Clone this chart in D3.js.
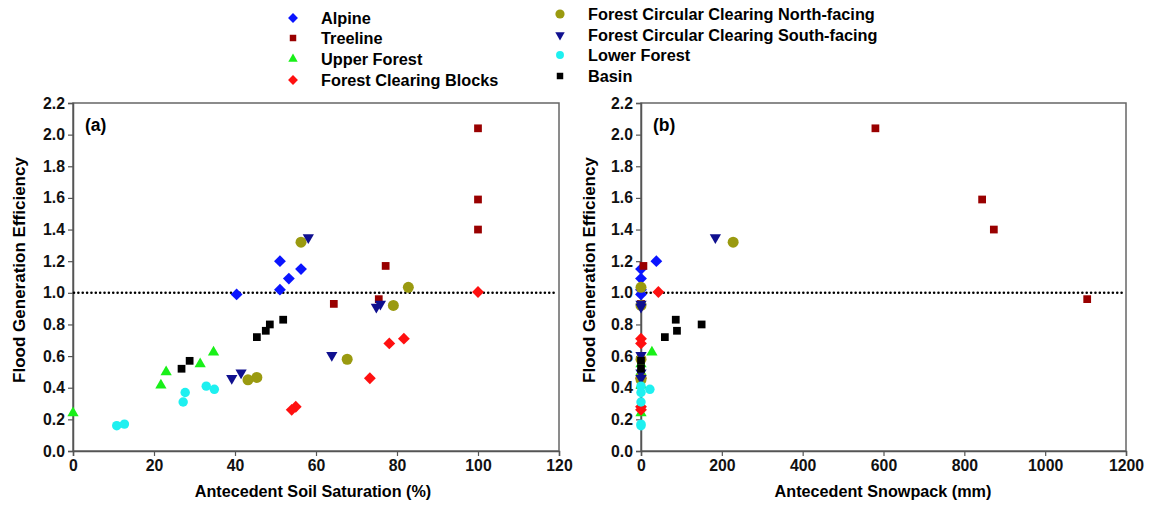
<!DOCTYPE html>
<html>
<head>
<meta charset="utf-8">
<script src="https://cdn.jsdelivr.net/npm/d3@7"></script>
<style>
  body { margin: 0; background: #fff; }
  svg { font-family: "Liberation Sans", Arial, sans-serif; font-weight: bold; }
</style>
</head>
<body>
<svg id="chart" width="1149" height="506"></svg>
<script>
// Series values: efficiency (y), soil saturation % (panel a x), snowpack mm (panel b x)
const seriesNames = ["Alpine", "Treeline", "Upper Forest", "Forest Clearing Blocks",
  "Forest Circular Clearing North-facing", "Forest Circular Clearing South-facing",
  "Lower Forest", "Basin"];

const alpineEff = [0.99, 1.20, 1.02, 1.09, 1.15];
const alpineSat = [40.4, 51.1, 51.1, 53.3, 56.3];
const alpineSnow = [0, 38, 0, 0, 0];

const treelineEff = [2.04, 1.59, 1.40, 1.17, 0.93, 0.96];
const treelineSat = [100, 100, 100, 77.2, 64.4, 75.5];
const treelineSnow = [580, 844, 873, 6, 0, 1104];

const upperEff = [0.24, 0.415, 0.50, 0.55, 0.625];
const upperSat = [0, 21.7, 23.0, 31.4, 34.7];
const upperSnow = [0, 0, 0, 0, 27];

const blocksEff = [1.005, 0.71, 0.68, 0.46, 0.28, 0.26];
const blocksSat = [100, 81.7, 78.1, 73.3, 55.0, 54.0];
const blocksSnow = [43, 0, 0, 0, 0, 0];

const northEff = [1.32, 1.035, 0.92, 0.58, 0.465, 0.45];
const northSat = [56.3, 82.8, 79.1, 67.7, 45.4, 43.2];
const northSnow = [228, 0, 0, 0, 0, 0];

const southEff = [1.35, 0.93, 0.91, 0.605, 0.495, 0.46];
const southSat = [58.1, 75.9, 74.9, 63.9, 41.5, 39.2];
const southSnow = [184, 0, 0, 0, 0, 0];

const lowerEff = [0.16, 0.17, 0.31, 0.37, 0.41, 0.39];
const lowerSat = [10.8, 12.7, 27.2, 27.7, 32.9, 34.9];
const lowerSnow = [0, 0, 0, 0, 0, 22];

const basinEff = [0.52, 0.57, 0.72, 0.76, 0.80, 0.83];
const basinSat = [26.8, 28.8, 45.4, 47.6, 48.6, 51.9];
const basinSnow = [0, 0, 59, 89, 150, 86];

const yTicks = [0, 0.2, 0.4, 0.6, 0.8, 1.0, 1.2, 1.4, 1.6, 1.8, 2.0, 2.2];
const satTicks = [0, 20, 40, 60, 80, 100, 120];
const snowTicks = [0, 200, 400, 600, 800, 1000, 1200];

// marker styles per series
const colors = ["#0a14ff", "#990000", "#19f019", "#ff1010", "#9a9a10", "#10108f", "#1ef0f0", "#000000"];
const shapes = ["diamond", "square", "triangle", "diamond", "circle", "triangleDown", "circle", "square"];
const sizes = [70, 60, 55, 70, 95, 55, 70, 60];

const series = [
  { eff: alpineEff, sat: alpineSat, snow: alpineSnow },
  { eff: treelineEff, sat: treelineSat, snow: treelineSnow },
  { eff: upperEff, sat: upperSat, snow: upperSnow },
  { eff: blocksEff, sat: blocksSat, snow: blocksSnow },
  { eff: northEff, sat: northSat, snow: northSnow },
  { eff: southEff, sat: southSat, snow: southSnow },
  { eff: lowerEff, sat: lowerSat, snow: lowerSnow },
  { eff: basinEff, sat: basinSat, snow: basinSnow },
].map((s, i) => ({ ...s, name: seriesNames[i], color: colors[i], shape: shapes[i], size: sizes[i] }));

const svg = d3.select("#chart");

function symbolPath(shape, size) {
  if (shape === "diamond" || shape === "square") return d3.symbol(d3.symbolSquare, size)();
  if (shape === "circle") return d3.symbol(d3.symbolCircle, size)();
  return d3.symbol(d3.symbolTriangle, size)();
}
function symbolRotate(shape) {
  if (shape === "diamond") return 45;
  if (shape === "triangleDown") return 180;
  return 0;
}

// Legend
const legendCols = [
  { x: 293, ys: [18, 38, 59, 80] },
  { x: 560, ys: [14, 35, 55, 76] },
];
series.forEach((s, i) => {
  const col = legendCols[Math.floor(i / 4)];
  const y = col.ys[i % 4];
  const g = svg.append("g").attr("transform", `translate(${col.x},${y})`);
  g.append("path")
    .attr("d", symbolPath(s.shape, s.size * 0.7))
    .attr("transform", `rotate(${symbolRotate(s.shape)})`)
    .attr("fill", s.color);
  g.append("text").attr("x", 28).attr("y", 5.5)
    .attr("font-size", 16.3).text(s.name);
});

const y = d3.scaleLinear().domain([0, 2.2]).range([451, 103]);

function drawPanel(opts) {
  const x = d3.scaleLinear().domain([0, 1200 / (opts.key === "sat" ? 10 : 1)]).range([opts.x0, opts.x1]);
  const g = svg.append("g");

  // frame
  g.append("rect")
    .attr("x", opts.x0).attr("y", 103)
    .attr("width", opts.x1 - opts.x0).attr("height", 451 - 103)
    .attr("fill", "none").attr("stroke", "#666").attr("stroke-width", 1.5);

  const yAxis = g.append("g").attr("transform", `translate(${opts.x0},0)`)
    .call(d3.axisLeft(y).tickValues(yTicks).tickFormat(d3.format(".1f")).tickSize(5).tickPadding(3));
  const xAxis = g.append("g").attr("transform", "translate(0,451)")
    .call(d3.axisBottom(x).tickValues(opts.ticks).tickFormat(d3.format("d")).tickSize(5).tickPadding(4));
  [yAxis, xAxis].forEach(a => {
    a.select(".domain").attr("stroke", "#555").attr("stroke-width", 1.5);
    a.selectAll(".tick line").attr("stroke", "#555").attr("stroke-width", 1.2);
    a.selectAll("text").attr("font-size", 15.8).attr("fill", "#111")
      .attr("font-family", "'Liberation Sans', Arial, sans-serif").attr("font-weight", "bold");
  });

  // reference line at efficiency = 1
  g.append("line")
    .attr("x1", opts.x0 + 1).attr("x2", opts.x1 - 2)
    .attr("y1", y(1)).attr("y2", y(1))
    .attr("stroke", "#000").attr("stroke-width", 2.6)
    .attr("stroke-linecap", "round").attr("stroke-dasharray", "0.01,4.35");

  // points
  series.forEach(s => {
    g.append("g").selectAll("path")
      .data(s.eff.map((e, i) => ({ e, v: s[opts.key][i] })))
      .join("path")
      .attr("d", symbolPath(s.shape, s.size))
      .attr("transform", d => `translate(${x(d.v)},${y(d.e)}) rotate(${symbolRotate(s.shape)})`)
      .attr("fill", s.color);
  });

  g.append("text").attr("x", opts.x0 + 12).attr("y", 131)
    .attr("font-size", 17.5).text(opts.label);

  g.append("text")
    .attr("transform", `translate(${opts.titleX},270) rotate(-90)`)
    .attr("text-anchor", "middle").attr("font-size", 17)
    .text("Flood Generation Efficiency");

  g.append("text")
    .attr("x", opts.titleCx).attr("y", 497)
    .attr("text-anchor", "middle").attr("font-size", 16.2)
    .text(opts.xTitle);
}

drawPanel({ key: "sat", x0: 73, x1: 559, ticks: satTicks, label: "(a)", titleX: 25, titleCx: 313,
  xTitle: "Antecedent Soil Saturation (%)" });
drawPanel({ key: "snow", x0: 641, x1: 1126, ticks: snowTicks, label: "(b)", titleX: 595, titleCx: 883,
  xTitle: "Antecedent Snowpack (mm)" });
</script>
</body>
</html>
